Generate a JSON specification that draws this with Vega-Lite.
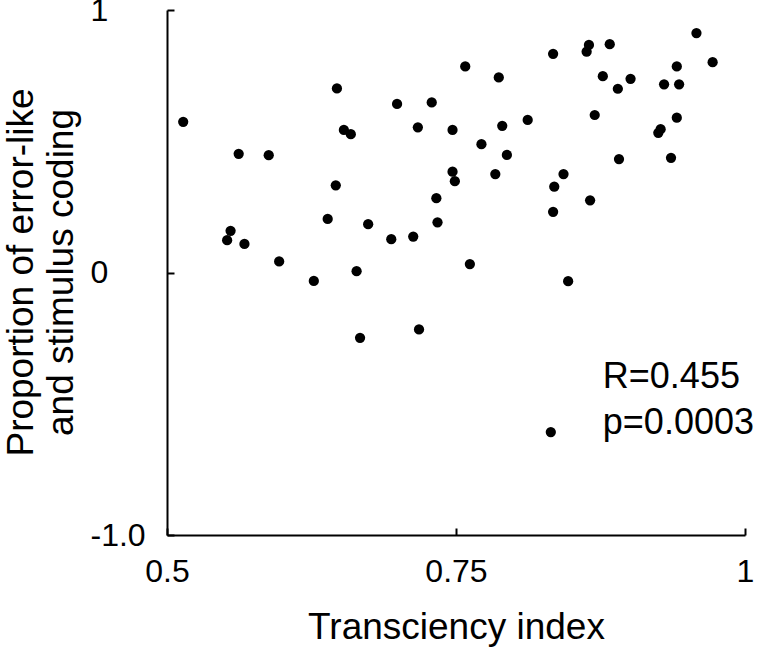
{
  "$schema": "https://vega.github.io/schema/vega-lite/v6.json",
  "width": 578,
  "height": 525,
  "autosize": {"type": "none"},
  "padding": {"left": 167, "top": 10, "right": 13, "bottom": 119},
  "background": "white",
  "config": {
    "view": {"stroke": null},
    "font": "Liberation Sans",
    "axis": {"grid": false, "domainColor": "black", "domainWidth": 2, "tickColor": "black", "tickWidth": 2, "labelColor": "black", "titleColor": "black", "labelFont": "Liberation Sans", "titleFont": "Liberation Sans", "titleFontWeight": "normal"}
  },
  "layer": [
    {
      "data": {"values": [
        {"ti": 0.514, "p": 0.574}, {"ti": 0.647, "p": 0.701}, {"ti": 0.699, "p": 0.642}, {"ti": 0.729, "p": 0.648},
        {"ti": 0.653, "p": 0.543}, {"ti": 0.659, "p": 0.527}, {"ti": 0.717, "p": 0.553}, {"ti": 0.747, "p": 0.543},
        {"ti": 0.562, "p": 0.452}, {"ti": 0.588, "p": 0.447}, {"ti": 0.747, "p": 0.384}, {"ti": 0.749, "p": 0.348},
        {"ti": 0.646, "p": 0.332}, {"ti": 0.733, "p": 0.283}, {"ti": 0.639, "p": 0.204}, {"ti": 0.734, "p": 0.191},
        {"ti": 0.674, "p": 0.184}, {"ti": 0.555, "p": 0.159}, {"ti": 0.552, "p": 0.123}, {"ti": 0.567, "p": 0.109},
        {"ti": 0.694, "p": 0.127}, {"ti": 0.713, "p": 0.137}, {"ti": 0.597, "p": 0.042}, {"ti": 0.664, "p": 0.005},
        {"ti": 0.627, "p": -0.032}, {"ti": 0.758, "p": 0.785}, {"ti": 0.787, "p": 0.743}, {"ti": 0.834, "p": 0.833},
        {"ti": 0.865, "p": 0.867}, {"ti": 0.863, "p": 0.841}, {"ti": 0.883, "p": 0.870}, {"ti": 0.958, "p": 0.912},
        {"ti": 0.972, "p": 0.801}, {"ti": 0.941, "p": 0.785}, {"ti": 0.877, "p": 0.748}, {"ti": 0.901, "p": 0.738},
        {"ti": 0.890, "p": 0.700}, {"ti": 0.930, "p": 0.717}, {"ti": 0.943, "p": 0.717}, {"ti": 0.870, "p": 0.600},
        {"ti": 0.812, "p": 0.581}, {"ti": 0.941, "p": 0.590}, {"ti": 0.790, "p": 0.559}, {"ti": 0.927, "p": 0.546},
        {"ti": 0.925, "p": 0.532}, {"ti": 0.772, "p": 0.489}, {"ti": 0.794, "p": 0.448}, {"ti": 0.891, "p": 0.432},
        {"ti": 0.936, "p": 0.437}, {"ti": 0.784, "p": 0.375}, {"ti": 0.843, "p": 0.375}, {"ti": 0.835, "p": 0.327},
        {"ti": 0.866, "p": 0.275}, {"ti": 0.834, "p": 0.231}, {"ti": 0.762, "p": 0.032}, {"ti": 0.847, "p": -0.033},
        {"ti": 0.667, "p": -0.249}, {"ti": 0.718, "p": -0.217}, {"ti": 0.832, "p": -0.608}
      ]},
      "mark": {"type": "circle", "size": 105, "color": "black", "opacity": 1},
      "encoding": {
        "x": {"field": "ti", "type": "quantitative", "scale": {"domain": [0.5, 1], "nice": false, "zero": false},
          "axis": {"title": "Transciency index", "values": [0.5, 0.75, 1], "format": "~g", "tickSize": -7, "labelFlush": false, "labelFontSize": 32, "labelPadding": 28, "labelBaseline": "top", "titleFontSize": 37, "titleY": 103, "titleBaseline": "alphabetic"}},
        "y": {"field": "p", "type": "quantitative", "scale": {"domain": [-1, 1], "nice": false},
          "axis": {"title": ["Proportion of error-like", "and stimulus coding"], "values": [1, 0, -1], "labelExpr": "datum.value == -1 ? '-1.0' : datum.label", "format": "~g", "tickSize": -7, "labelFontSize": 32, "labelAlign": "left", "labelBaseline": "middle", "labelPadding": 84, "titleFontSize": 37, "titleLineHeight": 40, "titleX": -135, "titleY": 262, "titleBaseline": "alphabetic", "titleAngle": -90, "titleAlign": "center"}}
      }
    },
    {
      "data": {"values": [
        {"ti": 0.877, "p": -0.441, "label": "R=0.455"},
        {"ti": 0.877, "p": -0.617, "label": "p=0.0003"}
      ]},
      "mark": {"type": "text", "align": "left", "baseline": "alphabetic", "fontSize": 36, "color": "black", "font": "Liberation Sans"},
      "encoding": {
        "x": {"field": "ti", "type": "quantitative"},
        "y": {"field": "p", "type": "quantitative"},
        "text": {"field": "label"}
      }
    }
  ]
}
